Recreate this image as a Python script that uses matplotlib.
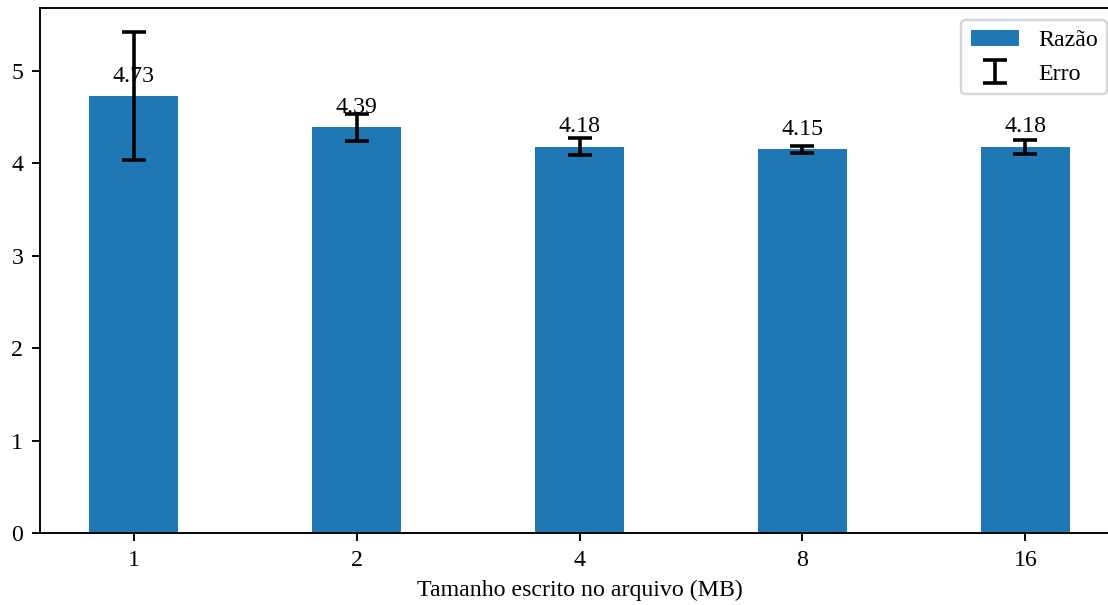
import matplotlib
matplotlib.use('Agg')
import matplotlib.pyplot as plt
import numpy as np

# dados
tamanhos = ['1', '2', '4', '8', '16']
razao = [4.73, 4.39, 4.18, 4.15, 4.18]
erro = [0.69, 0.145, 0.095, 0.04, 0.075]

plt.rcParams['font.family'] = ['Liberation Serif', 'DejaVu Serif']

DPI = 172
fig = plt.figure(figsize=(1108./DPI, 605./DPI), dpi=DPI)
# eixo um pouco mais largo que a figura (borda direita cortada)
ax = fig.add_axes([40/1108., 72/605., 1079/1108., 525/605.])

x = np.arange(len(tamanhos))
ax.bar(x, razao, width=0.4, color='#1f77b4', label='Razão')
ax.errorbar(x, razao, yerr=erro, fmt='none', ecolor='black', capsize=5,
            elinewidth=1.5, capthick=1.5, label='Erro')

for xi, v in zip(x, razao):
    ax.text(xi, v + 0.1, '%.2f' % v, ha='center', va='bottom')

ax.set_xticks(x)
ax.set_xticklabels(tamanhos)
ax.set_xlabel('Tamanho escrito no arquivo (MB)')
ax.set_xlim(-0.42, 4.42)
ax.set_ylim(0, 5.68)
ax.legend(loc='upper right')

fig.savefig('out.png', dpi=DPI)
